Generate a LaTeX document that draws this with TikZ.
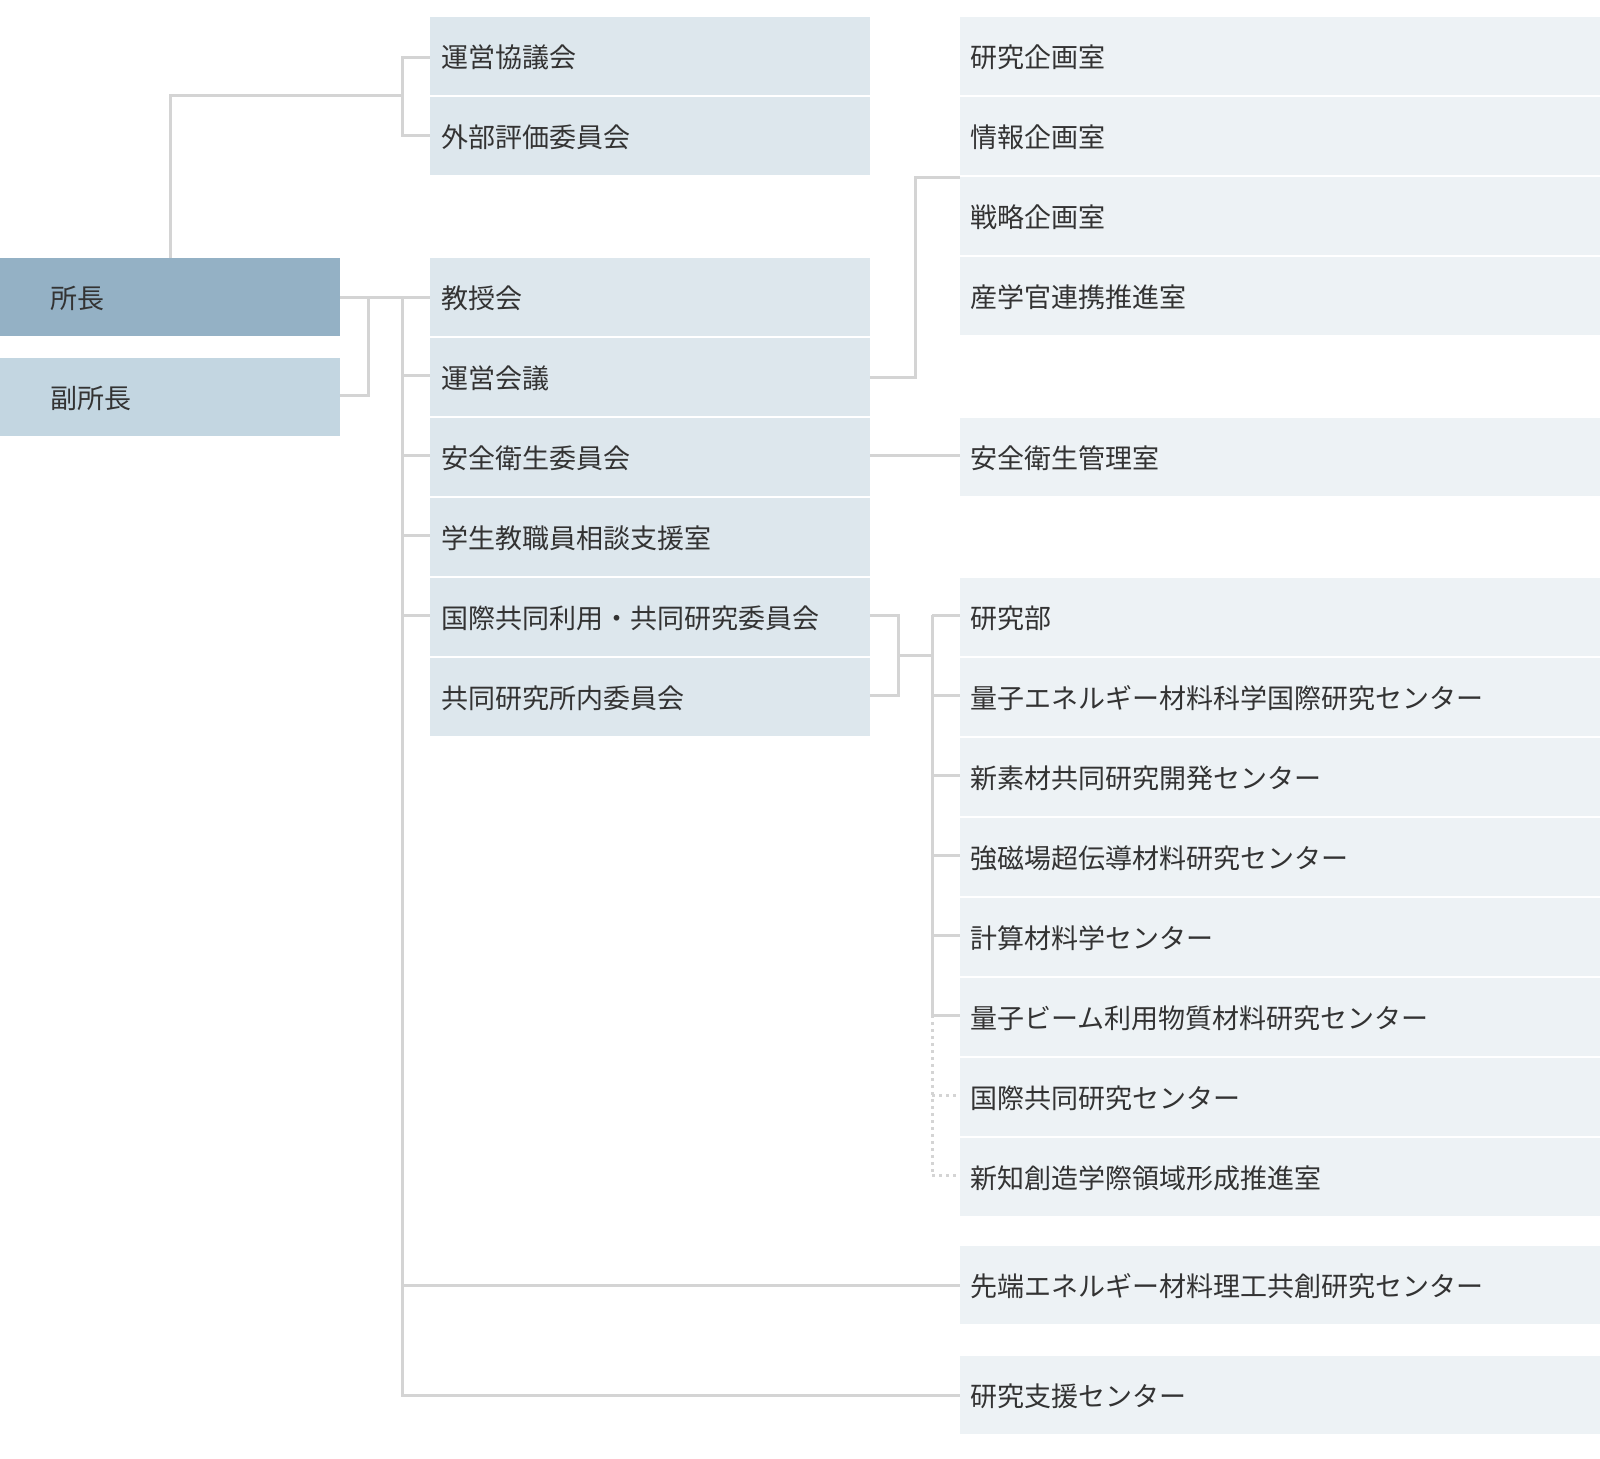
\documentclass[tikz,border=0pt]{standalone}
\usepackage{fontspec}
\setmainfont{Noto Sans CJK JP}
\begin{document}
\begin{tikzpicture}[x=0.5pt,y=-0.5pt,
 bx/.style={anchor=north west,inner sep=0pt,minimum height=39pt,text depth=0pt,font=\fontsize{13.5}{14}\selectfont,text=black!80,align=left},
 cA/.style={bx,fill=top,minimum width=170pt,text width=160pt},
 cB/.style={bx,fill=sub,minimum width=170pt,text width=160pt},
 c2/.style={bx,fill=mid,minimum width=220pt,text width=209pt},
 c3/.style={bx,fill=lite,minimum width=320pt,text width=310pt},
 ln/.style={draw=lineg,line width=1.5pt},
 dl/.style={draw=lineg,line width=1.5pt,dotted}]
\definecolor{top}{HTML}{94B1C5}
\definecolor{sub}{HTML}{C3D6E1}
\definecolor{mid}{HTML}{DDE7ED}
\definecolor{lite}{HTML}{EDF2F5}
\definecolor{lineg}{HTML}{D4D4D4}
\useasboundingbox (0,0) rectangle (1600,1458);
% lines first
\draw[ln] (170,258) -- (170,95) -- (402,95);
\draw[ln] (430,57) -- (402,57) -- (402,135) -- (430,135);
\draw[ln] (340,297) -- (430,297);
\draw[ln] (340,395) -- (368,395) -- (368,297);
\draw[ln] (402,297) -- (402,1395) -- (960,1395);
\draw[ln] (402,1285) -- (960,1285);
\foreach \y in {375,455,535,615} \draw[ln] (402,\y) -- (430,\y);
\draw[ln] (870,377) -- (915,377) -- (915,177) -- (960,177);
\draw[ln] (870,455) -- (960,455);
\draw[ln] (870,615) -- (898,615) -- (898,695) -- (870,695);
\draw[ln] (898,655) -- (932,655);
\draw[ln] (932,615) -- (932,1015);
\foreach \y in {615,695,775,855,935,1015} \draw[ln] (932,\y) -- (960,\y);
\draw[dl] (932,1015) -- (932,1175);
\draw[dl] (932,1095) -- (960,1095);
\draw[dl] (932,1175) -- (960,1175);
% boxes
\node[cA] (sho) at (0,258) {\hspace*{20pt}所長};
\node[cB] (fuku) at (0,358) {\hspace*{20pt}副所長};
\node[c2] (a1) at (430,17) {運営協議会};
\node[c2] (a2) at (430,97) {外部評価委員会};
\node[c2] (b1) at (430,258) {教授会};
\node[c2] (b2) at (430,338) {運営会議};
\node[c2] (b3) at (430,418) {安全衛生委員会};
\node[c2] (b4) at (430,498) {学生教職員相談支援室};
\node[c2] (b5) at (430,578) {国際共同利用・共同研究委員会};
\node[c2] (b6) at (430,658) {共同研究所内委員会};
\node[c3] (r1) at (960,17) {研究企画室};
\node[c3] (r2) at (960,97) {情報企画室};
\node[c3] (r3) at (960,177) {戦略企画室};
\node[c3] (r4) at (960,257) {産学官連携推進室};
\node[c3] (s1) at (960,418) {安全衛生管理室};
\node[c3] (k1) at (960,578) {研究部};
\node[c3] (k2) at (960,658) {量子エネルギー材料科学国際研究センター};
\node[c3] (k3) at (960,738) {新素材共同研究開発センター};
\node[c3] (k4) at (960,818) {強磁場超伝導材料研究センター};
\node[c3] (k5) at (960,898) {計算材料学センター};
\node[c3] (k6) at (960,978) {量子ビーム利用物質材料研究センター};
\node[c3] (k7) at (960,1058) {国際共同研究センター};
\node[c3] (k8) at (960,1138) {新知創造学際領域形成推進室};
\node[c3] (t1) at (960,1246) {先端エネルギー材料理工共創研究センター};
\node[c3] (t2) at (960,1356) {研究支援センター};
\end{tikzpicture}
\end{document}
